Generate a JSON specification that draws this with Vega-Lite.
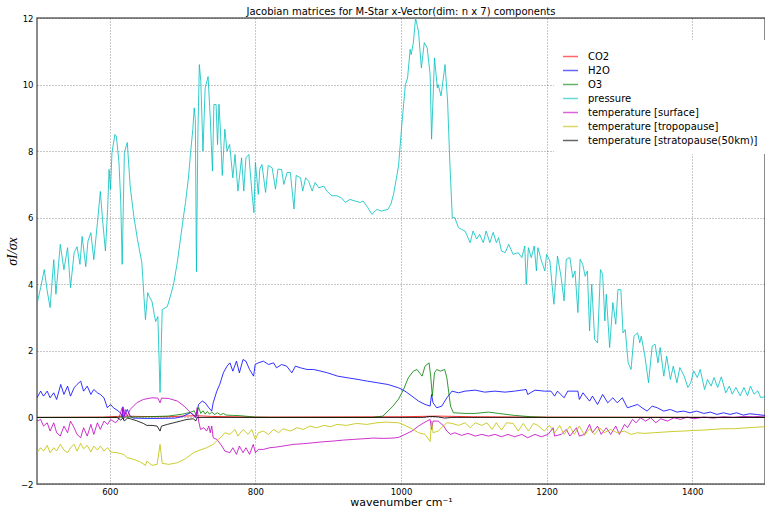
{
"$schema": "https://vega.github.io/schema/vega-lite/v6.json",
"width": 728, "height": 466,
"autosize": {"type": "none"},
"padding": {"left": 37, "top": 18, "right": 0, "bottom": 25},
"title": {"text": "Jacobian matrices for M-Star x-Vector(dim: n x 7) components", "fontSize": 10, "fontWeight": "normal", "font": "DejaVu Sans", "offset": -3, "color": "#000"},
"datasets": {
"d": [
{"s":"CO2","x":500,"y":0},{"s":"CO2","x":590,"y":0.01},{"s":"CO2","x":610,"y":0.03},{"s":"CO2","x":620,"y":0.04},{"s":"CO2","x":640,"y":0.03},{"s":"CO2","x":680,"y":0.02},{"s":"CO2","x":700,"y":0.04},{"s":"CO2","x":720,"y":0.05},{"s":"CO2","x":740,"y":0.03},{"s":"CO2","x":800,"y":0.01},{"s":"CO2","x":1000,"y":0.02},{"s":"CO2","x":1050,"y":0.04},{"s":"CO2","x":1100,"y":0.02},{"s":"CO2","x":1200,"y":0.01},{"s":"CO2","x":1500,"y":0},

{"s":"H2O","x":500,"y":0.59},{"s":"H2O","x":505,"y":0.79},{"s":"H2O","x":509,"y":0.64},{"s":"H2O","x":514,"y":0.79},{"s":"H2O","x":518,"y":0.59},{"s":"H2O","x":523,"y":0.74},{"s":"H2O","x":527,"y":0.54},{"s":"H2O","x":532.6,"y":0.99},{"s":"H2O","x":537,"y":0.69},{"s":"H2O","x":542,"y":0.94},{"s":"H2O","x":546,"y":0.64},{"s":"H2O","x":551,"y":0.89},{"s":"H2O","x":555,"y":0.99},{"s":"H2O","x":560,"y":1.09},{"s":"H2O","x":564,"y":0.79},{"s":"H2O","x":569,"y":0.94},{"s":"H2O","x":574,"y":0.69},{"s":"H2O","x":578,"y":0.84},{"s":"H2O","x":583,"y":0.74},{"s":"H2O","x":587,"y":0.69},{"s":"H2O","x":592,"y":0.59},{"s":"H2O","x":596.6,"y":0.29},{"s":"H2O","x":601,"y":0.39},{"s":"H2O","x":605,"y":0.29},{"s":"H2O","x":612,"y":0.19},{"s":"H2O","x":616,"y":0.1},{"s":"H2O","x":617,"y":0},{"s":"H2O","x":618,"y":0.32},{"s":"H2O","x":620,"y":0.04},{"s":"H2O","x":624,"y":0.24},{"s":"H2O","x":628,"y":0.04},{"s":"H2O","x":632,"y":-0.02},{"s":"H2O","x":650,"y":-0.03},{"s":"H2O","x":670,"y":-0.03},{"s":"H2O","x":690,"y":-0.02},{"s":"H2O","x":700,"y":0.03},{"s":"H2O","x":710.7,"y":0.14},{"s":"H2O","x":715,"y":0.08},{"s":"H2O","x":718,"y":0},{"s":"H2O","x":722,"y":0.39},{"s":"H2O","x":727,"y":0.49},{"s":"H2O","x":731,"y":0.44},{"s":"H2O","x":736,"y":0.29},{"s":"H2O","x":740,"y":0.19},{"s":"H2O","x":742,"y":0.44},{"s":"H2O","x":747,"y":0.79},{"s":"H2O","x":751,"y":0.99},{"s":"H2O","x":756,"y":1.34},{"s":"H2O","x":761,"y":1.54},{"s":"H2O","x":765,"y":1.64},{"s":"H2O","x":769,"y":1.39},{"s":"H2O","x":774,"y":1.69},{"s":"H2O","x":778,"y":1.34},{"s":"H2O","x":783,"y":1.74},{"s":"H2O","x":787,"y":1.69},{"s":"H2O","x":792,"y":1.44},{"s":"H2O","x":797.5,"y":1.24},{"s":"H2O","x":799.7,"y":1.59},{"s":"H2O","x":804,"y":1.64},{"s":"H2O","x":811,"y":1.69},{"s":"H2O","x":818,"y":1.59},{"s":"H2O","x":825,"y":1.64},{"s":"H2O","x":829,"y":1.49},{"s":"H2O","x":836,"y":1.59},{"s":"H2O","x":843,"y":1.54},{"s":"H2O","x":850,"y":1.34},{"s":"H2O","x":855,"y":1.54},{"s":"H2O","x":862,"y":1.49},{"s":"H2O","x":871,"y":1.44},{"s":"H2O","x":880,"y":1.44},{"s":"H2O","x":890,"y":1.39},{"s":"H2O","x":899,"y":1.34},{"s":"H2O","x":913,"y":1.24},{"s":"H2O","x":927,"y":1.19},{"s":"H2O","x":941,"y":1.14},{"s":"H2O","x":954,"y":1.09},{"s":"H2O","x":968,"y":1.04},{"s":"H2O","x":982,"y":0.99},{"s":"H2O","x":996.6,"y":0.89},{"s":"H2O","x":1005.5,"y":0.79},{"s":"H2O","x":1015,"y":0.64},{"s":"H2O","x":1024,"y":0.49},{"s":"H2O","x":1033,"y":0.39},{"s":"H2O","x":1040,"y":0.34},{"s":"H2O","x":1042,"y":0.69},{"s":"H2O","x":1044,"y":0.44},{"s":"H2O","x":1049,"y":0.29},{"s":"H2O","x":1056,"y":0.34},{"s":"H2O","x":1063,"y":0.59},{"s":"H2O","x":1070,"y":0.79},{"s":"H2O","x":1079,"y":0.74},{"s":"H2O","x":1088,"y":0.79},{"s":"H2O","x":1102,"y":0.82},{"s":"H2O","x":1115,"y":0.76},{"s":"H2O","x":1129,"y":0.79},{"s":"H2O","x":1143,"y":0.76},{"s":"H2O","x":1156,"y":0.79},{"s":"H2O","x":1172,"y":0.84},{"s":"H2O","x":1174,"y":0.69},{"s":"H2O","x":1184,"y":0.82},{"s":"H2O","x":1197,"y":0.79},{"s":"H2O","x":1206,"y":0.79},{"s":"H2O","x":1211,"y":0.64},{"s":"H2O","x":1215,"y":0.79},{"s":"H2O","x":1224,"y":0.59},{"s":"H2O","x":1229,"y":0.79},{"s":"H2O","x":1243,"y":0.79},{"s":"H2O","x":1245,"y":0.54},{"s":"H2O","x":1250,"y":0.74},{"s":"H2O","x":1259,"y":0.49},{"s":"H2O","x":1263,"y":0.64},{"s":"H2O","x":1270,"y":0.39},{"s":"H2O","x":1277,"y":0.69},{"s":"H2O","x":1284,"y":0.44},{"s":"H2O","x":1291,"y":0.59},{"s":"H2O","x":1297,"y":0.44},{"s":"H2O","x":1304,"y":0.59},{"s":"H2O","x":1311,"y":0.29},{"s":"H2O","x":1318,"y":0.34},{"s":"H2O","x":1325,"y":0.39},{"s":"H2O","x":1331,"y":0.29},{"s":"H2O","x":1338,"y":0.19},{"s":"H2O","x":1345,"y":0.34},{"s":"H2O","x":1352,"y":0.29},{"s":"H2O","x":1361,"y":0.19},{"s":"H2O","x":1370,"y":0.24},{"s":"H2O","x":1379,"y":0.16},{"s":"H2O","x":1388,"y":0.19},{"s":"H2O","x":1397,"y":0.14},{"s":"H2O","x":1406,"y":0.19},{"s":"H2O","x":1416,"y":0.12},{"s":"H2O","x":1425,"y":0.16},{"s":"H2O","x":1434,"y":0.09},{"s":"H2O","x":1443,"y":0.14},{"s":"H2O","x":1452,"y":0.09},{"s":"H2O","x":1461,"y":0.14},{"s":"H2O","x":1470,"y":0.07},{"s":"H2O","x":1479,"y":0.11},{"s":"H2O","x":1488,"y":0.09},{"s":"H2O","x":1500,"y":0.06},

{"s":"O3","x":500,"y":0},{"s":"O3","x":600,"y":0},{"s":"O3","x":620,"y":0.01},{"s":"O3","x":650,"y":0.02},{"s":"O3","x":680,"y":0.04},{"s":"O3","x":700,"y":0.1},{"s":"O3","x":710,"y":0.15},{"s":"O3","x":716,"y":0.2},{"s":"O3","x":719,"y":0.05},{"s":"O3","x":722,"y":0.3},{"s":"O3","x":725,"y":0.12},{"s":"O3","x":728,"y":0.2},{"s":"O3","x":731,"y":0.1},{"s":"O3","x":734,"y":0.18},{"s":"O3","x":737,"y":0.1},{"s":"O3","x":740,"y":0.16},{"s":"O3","x":744,"y":0.09},{"s":"O3","x":748,"y":0.14},{"s":"O3","x":752,"y":0.08},{"s":"O3","x":756,"y":0.12},{"s":"O3","x":760,"y":0.07},{"s":"O3","x":770,"y":0.06},{"s":"O3","x":780,"y":0.05},{"s":"O3","x":790,"y":0.03},{"s":"O3","x":800,"y":0.01},{"s":"O3","x":820,"y":0},{"s":"O3","x":960,"y":0},{"s":"O3","x":975,"y":0.04},{"s":"O3","x":989,"y":0.34},{"s":"O3","x":996.6,"y":0.55},{"s":"O3","x":1003.5,"y":0.84},{"s":"O3","x":1010,"y":1.19},{"s":"O3","x":1017,"y":1.39},{"s":"O3","x":1022,"y":1.44},{"s":"O3","x":1029,"y":1.24},{"s":"O3","x":1033,"y":1.54},{"s":"O3","x":1038.6,"y":1.64},{"s":"O3","x":1041,"y":1.19},{"s":"O3","x":1043,"y":0.64},{"s":"O3","x":1046,"y":1.34},{"s":"O3","x":1049,"y":1.44},{"s":"O3","x":1054,"y":1.39},{"s":"O3","x":1060,"y":1.44},{"s":"O3","x":1063,"y":1.19},{"s":"O3","x":1068,"y":0.34},{"s":"O3","x":1072,"y":0.14},{"s":"O3","x":1088,"y":0.12},{"s":"O3","x":1102,"y":0.12},{"s":"O3","x":1120,"y":0.16},{"s":"O3","x":1134,"y":0.12},{"s":"O3","x":1156,"y":0.06},{"s":"O3","x":1179,"y":0.02},{"s":"O3","x":1202,"y":0},{"s":"O3","x":1500,"y":0},

{"s":"pressure","x":500,"y":3.4},{"s":"pressure","x":505,"y":3.9},{"s":"pressure","x":510,"y":4.44},{"s":"pressure","x":514,"y":3.8},{"s":"pressure","x":518,"y":3.3},{"s":"pressure","x":523,"y":4.74},{"s":"pressure","x":526,"y":3.7},{"s":"pressure","x":532,"y":5.2},{"s":"pressure","x":537,"y":4.44},{"s":"pressure","x":542,"y":5.1},{"s":"pressure","x":546,"y":3.9},{"s":"pressure","x":551,"y":4.95},{"s":"pressure","x":555,"y":5.13},{"s":"pressure","x":559,"y":4.6},{"s":"pressure","x":562,"y":5.44},{"s":"pressure","x":567,"y":4.53},{"s":"pressure","x":570,"y":5.3},{"s":"pressure","x":574,"y":5.55},{"s":"pressure","x":578,"y":4.74},{"s":"pressure","x":583,"y":5.85},{"s":"pressure","x":587,"y":6.79},{"s":"pressure","x":590,"y":5.95},{"s":"pressure","x":594,"y":5.0},{"s":"pressure","x":597,"y":6.25},{"s":"pressure","x":599,"y":7.45},{"s":"pressure","x":601,"y":6.85},{"s":"pressure","x":603,"y":7.96},{"s":"pressure","x":607,"y":8.5},{"s":"pressure","x":609,"y":8.45},{"s":"pressure","x":612.6,"y":7.66},{"s":"pressure","x":615,"y":6.5},{"s":"pressure","x":617,"y":4.6},{"s":"pressure","x":620,"y":7.96},{"s":"pressure","x":624,"y":8.26},{"s":"pressure","x":628,"y":6.94},{"s":"pressure","x":633,"y":6.04},{"s":"pressure","x":638,"y":5.35},{"s":"pressure","x":644,"y":4.65},{"s":"pressure","x":647,"y":3.6},{"s":"pressure","x":649,"y":2.94},{"s":"pressure","x":652,"y":3.75},{"s":"pressure","x":655,"y":3.6},{"s":"pressure","x":658,"y":3.48},{"s":"pressure","x":661,"y":3.1},{"s":"pressure","x":663,"y":2.88},{"s":"pressure","x":666,"y":3.03},{"s":"pressure","x":669,"y":0.75},{"s":"pressure","x":672,"y":3.24},{"s":"pressure","x":679,"y":3.33},{"s":"pressure","x":684,"y":3.7},{"s":"pressure","x":688,"y":4.05},{"s":"pressure","x":693,"y":4.7},{"s":"pressure","x":697,"y":5.35},{"s":"pressure","x":701,"y":6.0},{"s":"pressure","x":704,"y":6.46},{"s":"pressure","x":708,"y":7.2},{"s":"pressure","x":711,"y":7.96},{"s":"pressure","x":714,"y":8.65},{"s":"pressure","x":716,"y":9.3},{"s":"pressure","x":717.5,"y":8.95},{"s":"pressure","x":719,"y":4.38},{"s":"pressure","x":721,"y":8.5},{"s":"pressure","x":723,"y":10.6},{"s":"pressure","x":725,"y":10.1},{"s":"pressure","x":728,"y":8.0},{"s":"pressure","x":731,"y":9.9},{"s":"pressure","x":735,"y":10.24},{"s":"pressure","x":738,"y":9.0},{"s":"pressure","x":741,"y":7.4},{"s":"pressure","x":743,"y":9.4},{"s":"pressure","x":746,"y":9.4},{"s":"pressure","x":748,"y":8.2},{"s":"pressure","x":750,"y":9.41},{"s":"pressure","x":752,"y":8.6},{"s":"pressure","x":754.5,"y":7.27},{"s":"pressure","x":758,"y":8.66},{"s":"pressure","x":761,"y":8.0},{"s":"pressure","x":764.6,"y":8.2},{"s":"pressure","x":769,"y":7.2},{"s":"pressure","x":772,"y":7.9},{"s":"pressure","x":776,"y":6.8},{"s":"pressure","x":781,"y":7.8},{"s":"pressure","x":784,"y":6.8},{"s":"pressure","x":787,"y":7.8},{"s":"pressure","x":791,"y":7.9},{"s":"pressure","x":795.6,"y":6.66},{"s":"pressure","x":798,"y":6.15},{"s":"pressure","x":800,"y":7.66},{"s":"pressure","x":804,"y":6.7},{"s":"pressure","x":806,"y":7.46},{"s":"pressure","x":809,"y":7.6},{"s":"pressure","x":814,"y":6.76},{"s":"pressure","x":817.6,"y":7.57},{"s":"pressure","x":823,"y":7.5},{"s":"pressure","x":827.6,"y":6.86},{"s":"pressure","x":831,"y":7.46},{"s":"pressure","x":836,"y":7.45},{"s":"pressure","x":839,"y":7.0},{"s":"pressure","x":843.6,"y":7.36},{"s":"pressure","x":848,"y":7.36},{"s":"pressure","x":853,"y":6.26},{"s":"pressure","x":856,"y":7.27},{"s":"pressure","x":862,"y":7.2},{"s":"pressure","x":865,"y":6.8},{"s":"pressure","x":869,"y":7.2},{"s":"pressure","x":873,"y":7.1},{"s":"pressure","x":878,"y":6.8},{"s":"pressure","x":882,"y":7.06},{"s":"pressure","x":887,"y":6.9},{"s":"pressure","x":894,"y":6.95},{"s":"pressure","x":898,"y":6.8},{"s":"pressure","x":905,"y":6.66},{"s":"pressure","x":912,"y":6.66},{"s":"pressure","x":918,"y":6.6},{"s":"pressure","x":923.6,"y":6.46},{"s":"pressure","x":930,"y":6.55},{"s":"pressure","x":937,"y":6.5},{"s":"pressure","x":944,"y":6.46},{"s":"pressure","x":948,"y":6.5},{"s":"pressure","x":954.5,"y":6.3},{"s":"pressure","x":960,"y":6.1},{"s":"pressure","x":967,"y":6.25},{"s":"pressure","x":973,"y":6.2},{"s":"pressure","x":982,"y":6.25},{"s":"pressure","x":986,"y":6.4},{"s":"pressure","x":989.7,"y":6.7},{"s":"pressure","x":993,"y":7.1},{"s":"pressure","x":996.6,"y":7.55},{"s":"pressure","x":1001,"y":8.75},{"s":"pressure","x":1006,"y":10.0},{"s":"pressure","x":1009,"y":10.2},{"s":"pressure","x":1012.6,"y":11.06},{"s":"pressure","x":1014,"y":10.9},{"s":"pressure","x":1017,"y":11.26},{"s":"pressure","x":1020,"y":12.0},{"s":"pressure","x":1024,"y":11.6},{"s":"pressure","x":1028,"y":10.5},{"s":"pressure","x":1032,"y":11.26},{"s":"pressure","x":1036,"y":11.1},{"s":"pressure","x":1040,"y":10.3},{"s":"pressure","x":1042,"y":8.36},{"s":"pressure","x":1046,"y":10.8},{"s":"pressure","x":1050,"y":9.9},{"s":"pressure","x":1051,"y":10.0},{"s":"pressure","x":1055,"y":9.66},{"s":"pressure","x":1060.5,"y":10.6},{"s":"pressure","x":1064,"y":9.5},{"s":"pressure","x":1067,"y":7.7},{"s":"pressure","x":1070.5,"y":6.0},{"s":"pressure","x":1074,"y":6.0},{"s":"pressure","x":1079,"y":5.7},{"s":"pressure","x":1083,"y":5.65},{"s":"pressure","x":1088,"y":5.6},{"s":"pressure","x":1095,"y":5.25},{"s":"pressure","x":1099,"y":5.6},{"s":"pressure","x":1104,"y":5.36},{"s":"pressure","x":1108,"y":5.5},{"s":"pressure","x":1113,"y":5.25},{"s":"pressure","x":1117,"y":5.6},{"s":"pressure","x":1122,"y":5.25},{"s":"pressure","x":1126.6,"y":5.56},{"s":"pressure","x":1131,"y":5.25},{"s":"pressure","x":1134,"y":5.4},{"s":"pressure","x":1138,"y":5.0},{"s":"pressure","x":1143,"y":4.95},{"s":"pressure","x":1148,"y":5.2},{"s":"pressure","x":1154,"y":4.9},{"s":"pressure","x":1161,"y":4.95},{"s":"pressure","x":1166,"y":4.8},{"s":"pressure","x":1170,"y":5.15},{"s":"pressure","x":1172,"y":4.0},{"s":"pressure","x":1175,"y":5.1},{"s":"pressure","x":1179,"y":4.8},{"s":"pressure","x":1183,"y":5.15},{"s":"pressure","x":1186,"y":4.4},{"s":"pressure","x":1188,"y":5.1},{"s":"pressure","x":1193,"y":4.7},{"s":"pressure","x":1197.6,"y":4.4},{"s":"pressure","x":1200,"y":4.9},{"s":"pressure","x":1204.5,"y":4.7},{"s":"pressure","x":1210,"y":3.4},{"s":"pressure","x":1215,"y":4.85},{"s":"pressure","x":1220,"y":4.2},{"s":"pressure","x":1224,"y":3.5},{"s":"pressure","x":1227,"y":4.75},{"s":"pressure","x":1232,"y":4.8},{"s":"pressure","x":1236,"y":4.2},{"s":"pressure","x":1239,"y":4.4},{"s":"pressure","x":1243,"y":3.15},{"s":"pressure","x":1246,"y":4.75},{"s":"pressure","x":1249.6,"y":4.6},{"s":"pressure","x":1253,"y":4.24},{"s":"pressure","x":1256,"y":4.4},{"s":"pressure","x":1259,"y":2.6},{"s":"pressure","x":1262,"y":4.0},{"s":"pressure","x":1266,"y":2.34},{"s":"pressure","x":1270,"y":2.24},{"s":"pressure","x":1274,"y":4.44},{"s":"pressure","x":1277,"y":4.3},{"s":"pressure","x":1280,"y":2.9},{"s":"pressure","x":1282,"y":3.7},{"s":"pressure","x":1286.6,"y":2.1},{"s":"pressure","x":1291,"y":3.45},{"s":"pressure","x":1293,"y":3.14},{"s":"pressure","x":1295,"y":2.8},{"s":"pressure","x":1298,"y":3.84},{"s":"pressure","x":1302,"y":3.84},{"s":"pressure","x":1305,"y":2.54},{"s":"pressure","x":1308,"y":2.64},{"s":"pressure","x":1312,"y":1.64},{"s":"pressure","x":1316,"y":1.44},{"s":"pressure","x":1320,"y":2.44},{"s":"pressure","x":1325,"y":2.54},{"s":"pressure","x":1328,"y":2.24},{"s":"pressure","x":1330,"y":2.44},{"s":"pressure","x":1335,"y":1.84},{"s":"pressure","x":1340,"y":1.04},{"s":"pressure","x":1345,"y":2.14},{"s":"pressure","x":1349,"y":2.2},{"s":"pressure","x":1353,"y":1.64},{"s":"pressure","x":1356,"y":2.1},{"s":"pressure","x":1361,"y":1.24},{"s":"pressure","x":1365,"y":1.84},{"s":"pressure","x":1370,"y":1.14},{"s":"pressure","x":1374,"y":1.54},{"s":"pressure","x":1379,"y":1.04},{"s":"pressure","x":1383,"y":1.5},{"s":"pressure","x":1389,"y":1.24},{"s":"pressure","x":1394,"y":0.9},{"s":"pressure","x":1398,"y":1.04},{"s":"pressure","x":1402,"y":1.4},{"s":"pressure","x":1407,"y":1.2},{"s":"pressure","x":1411,"y":1.44},{"s":"pressure","x":1417,"y":0.84},{"s":"pressure","x":1421,"y":1.14},{"s":"pressure","x":1426,"y":0.94},{"s":"pressure","x":1430,"y":1.2},{"s":"pressure","x":1435,"y":0.9},{"s":"pressure","x":1440,"y":1.22},{"s":"pressure","x":1446,"y":0.74},{"s":"pressure","x":1451,"y":0.94},{"s":"pressure","x":1455,"y":0.7},{"s":"pressure","x":1460,"y":0.9},{"s":"pressure","x":1466,"y":0.65},{"s":"pressure","x":1471,"y":0.9},{"s":"pressure","x":1476,"y":0.65},{"s":"pressure","x":1480,"y":0.94},{"s":"pressure","x":1485,"y":0.7},{"s":"pressure","x":1490,"y":0.8},{"s":"pressure","x":1494,"y":0.6},{"s":"pressure","x":1500,"y":0.62},

{"s":"temperature [surface]","x":500,"y":-0.11},{"s":"temperature [surface]","x":505,"y":-0.06},{"s":"temperature [surface]","x":509,"y":-0.26},{"s":"temperature [surface]","x":514,"y":-0.16},{"s":"temperature [surface]","x":518,"y":-0.41},{"s":"temperature [surface]","x":523,"y":-0.16},{"s":"temperature [surface]","x":527,"y":-0.46},{"s":"temperature [surface]","x":532,"y":-0.56},{"s":"temperature [surface]","x":537,"y":-0.26},{"s":"temperature [surface]","x":542,"y":-0.46},{"s":"temperature [surface]","x":546,"y":-0.11},{"s":"temperature [surface]","x":551,"y":-0.31},{"s":"temperature [surface]","x":555,"y":-0.51},{"s":"temperature [surface]","x":560,"y":-0.61},{"s":"temperature [surface]","x":564,"y":-0.31},{"s":"temperature [surface]","x":569,"y":-0.56},{"s":"temperature [surface]","x":574,"y":-0.21},{"s":"temperature [surface]","x":578,"y":-0.51},{"s":"temperature [surface]","x":583,"y":-0.16},{"s":"temperature [surface]","x":587,"y":-0.36},{"s":"temperature [surface]","x":592,"y":-0.11},{"s":"temperature [surface]","x":597,"y":-0.21},{"s":"temperature [surface]","x":601,"y":-0.06},{"s":"temperature [surface]","x":608,"y":-0.16},{"s":"temperature [surface]","x":612,"y":-0.06},{"s":"temperature [surface]","x":617,"y":0.29},{"s":"temperature [surface]","x":619,"y":-0.06},{"s":"temperature [surface]","x":621,"y":0.24},{"s":"temperature [surface]","x":624,"y":0.04},{"s":"temperature [surface]","x":628,"y":0.24},{"s":"temperature [surface]","x":637,"y":0.44},{"s":"temperature [surface]","x":646,"y":0.54},{"s":"temperature [surface]","x":658,"y":0.59},{"s":"temperature [surface]","x":666,"y":0.58},{"s":"temperature [surface]","x":669,"y":0.44},{"s":"temperature [surface]","x":671,"y":0.58},{"s":"temperature [surface]","x":681,"y":0.57},{"s":"temperature [surface]","x":693,"y":0.49},{"s":"temperature [surface]","x":702,"y":0.34},{"s":"temperature [surface]","x":711,"y":0.14},{"s":"temperature [surface]","x":718,"y":0},{"s":"temperature [surface]","x":720,"y":0.29},{"s":"temperature [surface]","x":722,"y":-0.11},{"s":"temperature [surface]","x":724.6,"y":-0.36},{"s":"temperature [surface]","x":729,"y":-0.31},{"s":"temperature [surface]","x":733,"y":-0.41},{"s":"temperature [surface]","x":736,"y":-0.26},{"s":"temperature [surface]","x":738,"y":-0.46},{"s":"temperature [surface]","x":740,"y":-0.26},{"s":"temperature [surface]","x":742,"y":-0.61},{"s":"temperature [surface]","x":747,"y":-0.66},{"s":"temperature [surface]","x":754,"y":-0.86},{"s":"temperature [surface]","x":758,"y":-1.01},{"s":"temperature [surface]","x":765,"y":-1.06},{"s":"temperature [surface]","x":769,"y":-0.91},{"s":"temperature [surface]","x":774,"y":-1.11},{"s":"temperature [surface]","x":778,"y":-0.86},{"s":"temperature [surface]","x":783,"y":-1.06},{"s":"temperature [surface]","x":787,"y":-0.91},{"s":"temperature [surface]","x":792,"y":-1.11},{"s":"temperature [surface]","x":797,"y":-0.81},{"s":"temperature [surface]","x":800,"y":-1.06},{"s":"temperature [surface]","x":804,"y":-0.96},{"s":"temperature [surface]","x":811,"y":-0.96},{"s":"temperature [surface]","x":820,"y":-0.91},{"s":"temperature [surface]","x":829,"y":-0.89},{"s":"temperature [surface]","x":838,"y":-0.86},{"s":"temperature [surface]","x":852,"y":-0.81},{"s":"temperature [surface]","x":866,"y":-0.79},{"s":"temperature [surface]","x":880,"y":-0.76},{"s":"temperature [surface]","x":894,"y":-0.73},{"s":"temperature [surface]","x":907,"y":-0.71},{"s":"temperature [surface]","x":921,"y":-0.68},{"s":"temperature [surface]","x":935,"y":-0.66},{"s":"temperature [surface]","x":949,"y":-0.64},{"s":"temperature [surface]","x":962,"y":-0.62},{"s":"temperature [surface]","x":976,"y":-0.63},{"s":"temperature [surface]","x":989,"y":-0.62},{"s":"temperature [surface]","x":996.6,"y":-0.6},{"s":"temperature [surface]","x":1005.5,"y":-0.51},{"s":"temperature [surface]","x":1015,"y":-0.41},{"s":"temperature [surface]","x":1024,"y":-0.26},{"s":"temperature [surface]","x":1033,"y":-0.14},{"s":"temperature [surface]","x":1040,"y":-0.06},{"s":"temperature [surface]","x":1042,"y":-0.36},{"s":"temperature [surface]","x":1044,"y":-0.11},{"s":"temperature [surface]","x":1051,"y":-0.11},{"s":"temperature [surface]","x":1058,"y":-0.24},{"s":"temperature [surface]","x":1063,"y":-0.41},{"s":"temperature [surface]","x":1068,"y":-0.51},{"s":"temperature [surface]","x":1074,"y":-0.46},{"s":"temperature [surface]","x":1083,"y":-0.54},{"s":"temperature [surface]","x":1092,"y":-0.48},{"s":"temperature [surface]","x":1102,"y":-0.56},{"s":"temperature [surface]","x":1111,"y":-0.51},{"s":"temperature [surface]","x":1120,"y":-0.56},{"s":"temperature [surface]","x":1129,"y":-0.51},{"s":"temperature [surface]","x":1138,"y":-0.58},{"s":"temperature [surface]","x":1147,"y":-0.51},{"s":"temperature [surface]","x":1156,"y":-0.58},{"s":"temperature [surface]","x":1166,"y":-0.51},{"s":"temperature [surface]","x":1174,"y":-0.61},{"s":"temperature [surface]","x":1184,"y":-0.51},{"s":"temperature [surface]","x":1193,"y":-0.58},{"s":"temperature [surface]","x":1202,"y":-0.51},{"s":"temperature [surface]","x":1209,"y":-0.31},{"s":"temperature [surface]","x":1211,"y":-0.56},{"s":"temperature [surface]","x":1220,"y":-0.51},{"s":"temperature [surface]","x":1227,"y":-0.36},{"s":"temperature [surface]","x":1232,"y":-0.56},{"s":"temperature [surface]","x":1241,"y":-0.31},{"s":"temperature [surface]","x":1245,"y":-0.56},{"s":"temperature [surface]","x":1252,"y":-0.51},{"s":"temperature [surface]","x":1259,"y":-0.21},{"s":"temperature [surface]","x":1263,"y":-0.46},{"s":"temperature [surface]","x":1270,"y":-0.26},{"s":"temperature [surface]","x":1275,"y":-0.51},{"s":"temperature [surface]","x":1282,"y":-0.31},{"s":"temperature [surface]","x":1288,"y":-0.51},{"s":"temperature [surface]","x":1295,"y":-0.26},{"s":"temperature [surface]","x":1300,"y":-0.51},{"s":"temperature [surface]","x":1307,"y":-0.21},{"s":"temperature [surface]","x":1311,"y":-0.31},{"s":"temperature [surface]","x":1318,"y":-0.06},{"s":"temperature [surface]","x":1323,"y":-0.16},{"s":"temperature [surface]","x":1329,"y":-0.01},{"s":"temperature [surface]","x":1336,"y":-0.11},{"s":"temperature [surface]","x":1343,"y":-0.01},{"s":"temperature [surface]","x":1350,"y":-0.16},{"s":"temperature [surface]","x":1357,"y":-0.04},{"s":"temperature [surface]","x":1366,"y":-0.11},{"s":"temperature [surface]","x":1375,"y":-0.01},{"s":"temperature [surface]","x":1384,"y":-0.06},{"s":"temperature [surface]","x":1393,"y":0.01},{"s":"temperature [surface]","x":1402,"y":-0.04},{"s":"temperature [surface]","x":1416,"y":0.01},{"s":"temperature [surface]","x":1429,"y":-0.02},{"s":"temperature [surface]","x":1443,"y":0.02},{"s":"temperature [surface]","x":1457,"y":0},{"s":"temperature [surface]","x":1470,"y":0.03},{"s":"temperature [surface]","x":1484,"y":0.02},{"s":"temperature [surface]","x":1500,"y":0.04},

{"s":"temperature [tropopause]","x":500,"y":-1.06},{"s":"temperature [tropopause]","x":505,"y":-0.91},{"s":"temperature [tropopause]","x":509,"y":-1.01},{"s":"temperature [tropopause]","x":514,"y":-0.84},{"s":"temperature [tropopause]","x":518,"y":-1.06},{"s":"temperature [tropopause]","x":523,"y":-0.91},{"s":"temperature [tropopause]","x":527,"y":-1.01},{"s":"temperature [tropopause]","x":532,"y":-0.81},{"s":"temperature [tropopause]","x":537,"y":-0.98},{"s":"temperature [tropopause]","x":542,"y":-1.06},{"s":"temperature [tropopause]","x":546,"y":-0.91},{"s":"temperature [tropopause]","x":551,"y":-0.81},{"s":"temperature [tropopause]","x":555,"y":-1.01},{"s":"temperature [tropopause]","x":560,"y":-0.78},{"s":"temperature [tropopause]","x":564,"y":-0.94},{"s":"temperature [tropopause]","x":569,"y":-0.84},{"s":"temperature [tropopause]","x":574,"y":-1.04},{"s":"temperature [tropopause]","x":578,"y":-0.86},{"s":"temperature [tropopause]","x":583,"y":-0.98},{"s":"temperature [tropopause]","x":587,"y":-0.86},{"s":"temperature [tropopause]","x":592,"y":-1.01},{"s":"temperature [tropopause]","x":597,"y":-0.91},{"s":"temperature [tropopause]","x":601,"y":-1.04},{"s":"temperature [tropopause]","x":610,"y":-1.06},{"s":"temperature [tropopause]","x":619,"y":-1.11},{"s":"temperature [tropopause]","x":624,"y":-1.21},{"s":"temperature [tropopause]","x":633,"y":-1.26},{"s":"temperature [tropopause]","x":642,"y":-1.34},{"s":"temperature [tropopause]","x":649,"y":-1.44},{"s":"temperature [tropopause]","x":651,"y":-1.31},{"s":"temperature [tropopause]","x":658,"y":-1.44},{"s":"temperature [tropopause]","x":665,"y":-1.41},{"s":"temperature [tropopause]","x":669,"y":-0.81},{"s":"temperature [tropopause]","x":672,"y":-1.38},{"s":"temperature [tropopause]","x":681,"y":-1.41},{"s":"temperature [tropopause]","x":693,"y":-1.36},{"s":"temperature [tropopause]","x":704,"y":-1.24},{"s":"temperature [tropopause]","x":715,"y":-1.06},{"s":"temperature [tropopause]","x":724,"y":-0.98},{"s":"temperature [tropopause]","x":733,"y":-0.91},{"s":"temperature [tropopause]","x":742,"y":-0.81},{"s":"temperature [tropopause]","x":749,"y":-0.66},{"s":"temperature [tropopause]","x":754,"y":-0.56},{"s":"temperature [tropopause]","x":758,"y":-0.46},{"s":"temperature [tropopause]","x":765,"y":-0.51},{"s":"temperature [tropopause]","x":772,"y":-0.36},{"s":"temperature [tropopause]","x":776,"y":-0.56},{"s":"temperature [tropopause]","x":783,"y":-0.36},{"s":"temperature [tropopause]","x":790,"y":-0.51},{"s":"temperature [tropopause]","x":795,"y":-0.36},{"s":"temperature [tropopause]","x":800,"y":-0.66},{"s":"temperature [tropopause]","x":804,"y":-0.46},{"s":"temperature [tropopause]","x":811,"y":-0.41},{"s":"temperature [tropopause]","x":818,"y":-0.51},{"s":"temperature [tropopause]","x":825,"y":-0.36},{"s":"temperature [tropopause]","x":832,"y":-0.46},{"s":"temperature [tropopause]","x":838,"y":-0.34},{"s":"temperature [tropopause]","x":848,"y":-0.41},{"s":"temperature [tropopause]","x":857,"y":-0.31},{"s":"temperature [tropopause]","x":866,"y":-0.36},{"s":"temperature [tropopause]","x":875,"y":-0.26},{"s":"temperature [tropopause]","x":884,"y":-0.31},{"s":"temperature [tropopause]","x":894,"y":-0.24},{"s":"temperature [tropopause]","x":903,"y":-0.28},{"s":"temperature [tropopause]","x":912,"y":-0.21},{"s":"temperature [tropopause]","x":925,"y":-0.24},{"s":"temperature [tropopause]","x":939,"y":-0.18},{"s":"temperature [tropopause]","x":953,"y":-0.21},{"s":"temperature [tropopause]","x":967,"y":-0.16},{"s":"temperature [tropopause]","x":980,"y":-0.14},{"s":"temperature [tropopause]","x":996.6,"y":-0.16},{"s":"temperature [tropopause]","x":1005.5,"y":-0.24},{"s":"temperature [tropopause]","x":1015,"y":-0.34},{"s":"temperature [tropopause]","x":1024,"y":-0.46},{"s":"temperature [tropopause]","x":1033,"y":-0.51},{"s":"temperature [tropopause]","x":1040,"y":-0.72},{"s":"temperature [tropopause]","x":1042,"y":-0.11},{"s":"temperature [tropopause]","x":1044,"y":-0.46},{"s":"temperature [tropopause]","x":1051,"y":-0.41},{"s":"temperature [tropopause]","x":1058,"y":-0.26},{"s":"temperature [tropopause]","x":1063,"y":-0.16},{"s":"temperature [tropopause]","x":1070,"y":-0.18},{"s":"temperature [tropopause]","x":1079,"y":-0.24},{"s":"temperature [tropopause]","x":1088,"y":-0.16},{"s":"temperature [tropopause]","x":1095,"y":-0.31},{"s":"temperature [tropopause]","x":1102,"y":-0.16},{"s":"temperature [tropopause]","x":1111,"y":-0.24},{"s":"temperature [tropopause]","x":1118,"y":-0.16},{"s":"temperature [tropopause]","x":1125,"y":-0.36},{"s":"temperature [tropopause]","x":1131,"y":-0.16},{"s":"temperature [tropopause]","x":1138,"y":-0.38},{"s":"temperature [tropopause]","x":1145,"y":-0.16},{"s":"temperature [tropopause]","x":1154,"y":-0.18},{"s":"temperature [tropopause]","x":1161,"y":-0.41},{"s":"temperature [tropopause]","x":1168,"y":-0.18},{"s":"temperature [tropopause]","x":1175,"y":-0.41},{"s":"temperature [tropopause]","x":1182,"y":-0.18},{"s":"temperature [tropopause]","x":1188,"y":-0.24},{"s":"temperature [tropopause]","x":1197,"y":-0.41},{"s":"temperature [tropopause]","x":1204,"y":-0.24},{"s":"temperature [tropopause]","x":1211,"y":-0.46},{"s":"temperature [tropopause]","x":1218,"y":-0.24},{"s":"temperature [tropopause]","x":1224,"y":-0.51},{"s":"temperature [tropopause]","x":1232,"y":-0.26},{"s":"temperature [tropopause]","x":1238,"y":-0.51},{"s":"temperature [tropopause]","x":1245,"y":-0.26},{"s":"temperature [tropopause]","x":1252,"y":-0.54},{"s":"temperature [tropopause]","x":1259,"y":-0.34},{"s":"temperature [tropopause]","x":1266,"y":-0.51},{"s":"temperature [tropopause]","x":1273,"y":-0.31},{"s":"temperature [tropopause]","x":1279,"y":-0.46},{"s":"temperature [tropopause]","x":1288,"y":-0.36},{"s":"temperature [tropopause]","x":1297,"y":-0.46},{"s":"temperature [tropopause]","x":1307,"y":-0.41},{"s":"temperature [tropopause]","x":1316,"y":-0.51},{"s":"temperature [tropopause]","x":1325,"y":-0.46},{"s":"temperature [tropopause]","x":1334,"y":-0.48},{"s":"temperature [tropopause]","x":1347,"y":-0.46},{"s":"temperature [tropopause]","x":1361,"y":-0.44},{"s":"temperature [tropopause]","x":1375,"y":-0.42},{"s":"temperature [tropopause]","x":1388,"y":-0.41},{"s":"temperature [tropopause]","x":1402,"y":-0.39},{"s":"temperature [tropopause]","x":1416,"y":-0.38},{"s":"temperature [tropopause]","x":1429,"y":-0.36},{"s":"temperature [tropopause]","x":1443,"y":-0.34},{"s":"temperature [tropopause]","x":1457,"y":-0.34},{"s":"temperature [tropopause]","x":1470,"y":-0.32},{"s":"temperature [tropopause]","x":1484,"y":-0.3},{"s":"temperature [tropopause]","x":1500,"y":-0.28},

{"s":"temperature [stratopause(50km)]","x":500,"y":0},{"s":"temperature [stratopause(50km)]","x":610,"y":0},{"s":"temperature [stratopause(50km)]","x":615,"y":-0.08},{"s":"temperature [stratopause(50km)]","x":618,"y":-0.02},{"s":"temperature [stratopause(50km)]","x":620,"y":-0.11},{"s":"temperature [stratopause(50km)]","x":624,"y":-0.02},{"s":"temperature [stratopause(50km)]","x":628,"y":-0.04},{"s":"temperature [stratopause(50km)]","x":637,"y":-0.1},{"s":"temperature [stratopause(50km)]","x":646,"y":-0.18},{"s":"temperature [stratopause(50km)]","x":651,"y":-0.24},{"s":"temperature [stratopause(50km)]","x":658,"y":-0.24},{"s":"temperature [stratopause(50km)]","x":665,"y":-0.26},{"s":"temperature [stratopause(50km)]","x":669,"y":-0.41},{"s":"temperature [stratopause(50km)]","x":671,"y":-0.26},{"s":"temperature [stratopause(50km)]","x":679,"y":-0.21},{"s":"temperature [stratopause(50km)]","x":688,"y":-0.16},{"s":"temperature [stratopause(50km)]","x":697,"y":-0.11},{"s":"temperature [stratopause(50km)]","x":706,"y":-0.06},{"s":"temperature [stratopause(50km)]","x":715,"y":-0.04},{"s":"temperature [stratopause(50km)]","x":718,"y":-0.11},{"s":"temperature [stratopause(50km)]","x":720,"y":0},{"s":"temperature [stratopause(50km)]","x":1030,"y":0},{"s":"temperature [stratopause(50km)]","x":1040,"y":0.03},{"s":"temperature [stratopause(50km)]","x":1050,"y":0.02},{"s":"temperature [stratopause(50km)]","x":1060,"y":-0.02},{"s":"temperature [stratopause(50km)]","x":1070,"y":0},{"s":"temperature [stratopause(50km)]","x":1500,"y":0}
]
},
"data": {"name": "d"},
"mark": {"type": "line", "strokeWidth": 1, "opacity": 0.8, "clip": true},
"encoding": {
  "x": {"field": "x", "type": "quantitative",
        "scale": {"domain": [500, 1500], "nice": false, "zero": false},
        "axis": {"values": [600, 800, 1000, 1200, 1400], "format": "d", "title": "wavenumber cm⁻¹", "titlePadding": 1, "labelPadding": 3}},
  "y": {"field": "y", "type": "quantitative",
        "scale": {"domain": [-2, 12], "nice": false, "zero": false},
        "axis": {"values": [-2, 0, 2, 4, 6, 8, 10, 12], "format": "d", "title": "σI/σx", "titleFont": "Liberation Serif", "titleFontStyle": "italic", "titleFontSize": 14, "titlePadding": 1, "labelPadding": 4}},
  "color": {"field": "s", "type": "nominal",
        "sort": ["CO2", "H2O", "O3", "pressure", "temperature [surface]", "temperature [tropopause]", "temperature [stratopause(50km)]"],
        "scale": {"domain": ["CO2", "H2O", "O3", "pressure", "temperature [surface]", "temperature [tropopause]", "temperature [stratopause(50km)]"],
                  "range": ["#ff0000", "#0000ff", "#008000", "#00bfbf", "#bf00bf", "#bfbf00", "#000000"]},
        "legend": {"orient": "none", "legendX": 517, "legendY": 22, "title": null, "symbolType": "stroke", "symbolSize": 225, "symbolStrokeWidth": 1.5, "symbolOpacity": 0.6, "labelFontSize": 10, "labelFont": "DejaVu Sans", "labelColor": "#000", "labelOffset": 9, "rowPadding": 0, "fillColor": "white", "padding": 8, "labelLimit": 300}}
},
"config": {
  "view": {"stroke": "#666", "strokeWidth": 1.5},
  "axis": {"grid": true, "gridColor": "#000", "gridOpacity": 0.55, "gridDash": [1, 2], "gridWidth": 0.8, "domain": false, "ticks": false,
           "labelFont": "DejaVu Sans", "labelFontSize": 8.5, "labelColor": "#000", "titleFont": "DejaVu Sans", "titleFontSize": 11, "titleFontWeight": "normal", "titleColor": "#000"}
}
}
